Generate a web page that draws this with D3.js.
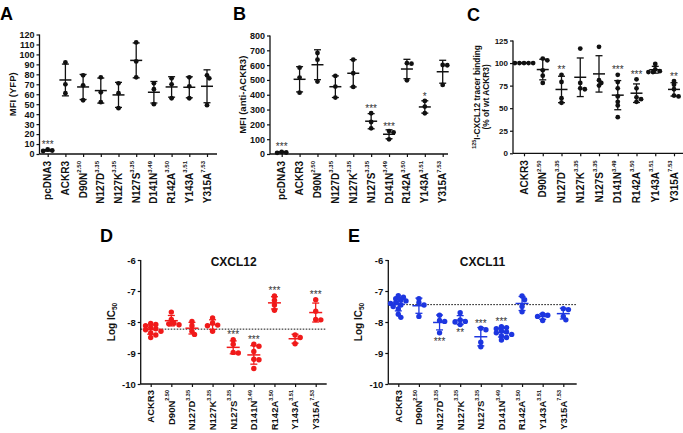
<!DOCTYPE html>
<html><head><meta charset="utf-8">
<script src="https://cdn.jsdelivr.net/npm/d3@7"></script>
<style>body{margin:0;background:#fff} svg{display:block} text{font-family:"Liberation Sans",Arial,sans-serif}</style>
</head><body><svg id="c" width="683" height="433"></svg>
<script>
// ---------- categories ----------
const catsAll = ["pcDNA3","ACKR3","D90N","N127D","N127K","N127S","D141N","R142A","Y143A","Y315A"];
const supsAll = ["","","2.50","3.35","3.35","3.35","3.49","3.50","3.51","7.53"];
const catsCDE = catsAll.slice(1);
const supsCDE = supsAll.slice(1);

// ---------- values ----------
const dataA = [[4.5,3,3.5],[92,70,61],[79,69,54],[77,62,52],[71,61,46],[112,93,77],[71,65,50],[76,70,56],[77,68,56],[79,76,49]];
const dataB = [[15,10,8],[583,516,414],[682,637,489],[527,455,381],[637,545,453],[275,216,173],[155,146,99],[613,610,498],[358,320,275],[601,599,466]];
const dataC = [[100,100,100,100,100],[105,103,92,86,78],[87,79,61,56],[116,78,72,71],[118,81,78,75],[87,79,72,63,57,53,40],[82,72,62,60,57],[99,93,91,90,90],[80,76,71,64,63]];
const dataD = [[-8.05,-8.08,-8.12,-8.18,-8.22,-8.25,-8.3,-8.35,-8.42,-8.5],[-7.68,-7.92,-8.04,-8.06,-8.09],[-7.98,-8.12,-8.3,-8.4],[-7.87,-8.03,-8.1,-8.12,-8.3],[-8.57,-8.72,-8.98,-9.0],[-8.72,-8.78,-8.95,-9.2,-9.22,-9.5],[-7.16,-7.3,-7.45,-7.62],[-8.42,-8.5,-8.7],[-7.28,-7.65,-7.92,-7.93]];
const dataE = [[-7.15,-7.2,-7.25,-7.3,-7.32,-7.38,-7.4,-7.45,-7.5,-7.58,-7.75,-7.85],[-7.25,-7.38,-7.45,-7.82],[-7.78,-7.95,-7.98,-8.35],[-7.7,-7.93,-7.98,-8.08,-8.0],[-8.2,-8.25,-8.65,-8.8],[-8.15,-8.18,-8.22,-8.28,-8.32,-8.35,-8.4,-8.45,-8.5,-8.58],[-7.16,-7.28,-7.5,-7.67],[-7.75,-7.78,-7.82,-7.95],[-7.57,-7.6,-7.82,-7.93]];
const refD = -8.23, refE = -7.44;

// ---------- significance ----------
const starIdxA = [0], starTxtA = ["***"], starPosA = ["above"];
const starIdxB = [0,5,6,8], starTxtB = ["***","***","***","*"], starPosB = ["above","above","above","above"];
const starIdxC = [2,5,6,8], starTxtC = ["**","***","***","**"], starPosC = ["above","above","above","above"];
const starIdxD = [4,5,6,8], starTxtD = ["***","***","***","***"], starPosD = ["above","above","above","above"];
const starIdxE = [2,3,4,5], starTxtE = ["***","**","***","***"], starPosE = ["below","below","above","above"];

// ---------- ticks ----------
const ticksA = d3.range(0,121,10), ticksB = d3.range(0,801,100), ticksC = [0,25,50,75,100,125], ticksDE = [-10,-9,-8,-7,-6];

const svg = d3.select("#c");
const FONT = '"Liberation Sans",Arial,sans-serif';

function swarm(vals, cx, y, r){
  const pts = vals.map(v=>({v, y:y(v)})).sort((a,b)=>a.y-b.y);
  const placed=[]; const minD=r*1.45, step=r*0.95;
  pts.forEach(p=>{
    for(let k=0;k<30;k++){
      const o = k===0?0:(k%2?1:-1)*Math.ceil(k/2)*step;
      const px=cx+o;
      if(placed.every(q=>Math.hypot(q.x-px,q.y-p.y)>=minD)){p.x=px;placed.push(p);break;}
    }
  });
  return placed;
}

function panel(c){
  const g = svg.append("g");
  const x = d3.scalePoint().domain(c.cats).range([c.x0,c.x1]);
  const y = d3.scaleLinear().domain(c.yDomain).range([c.yBottom,c.yTop]);
  // y axis
  const ya = g.append("g").attr("transform",`translate(${c.axisX},0)`)
    .call(d3.axisLeft(y).tickValues(c.yTicks).tickSize(3).tickPadding(2).tickFormat(d=>String(d)));
  ya.select(".domain").attr("stroke","#111").attr("stroke-width",1.3).attr("d",`M0,${c.yTop}V${c.yBottom}`);
  ya.selectAll(".tick line").attr("stroke","#111").attr("stroke-width",1.2);
  ya.selectAll(".tick text").attr("font-family",FONT).attr("font-weight","bold").attr("font-size",c.tickFs).attr("fill","#111");
  // x axis
  const xa = g.append("g").attr("transform",`translate(0,${c.yBottom})`)
    .call(d3.axisBottom(x).tickSize(3).tickFormat(""));
  xa.select(".domain").remove();
  xa.selectAll(".tick line").attr("stroke","#111").attr("stroke-width",1.2);
  g.append("line").attr("x1",c.axisX).attr("x2",c.axisEnd).attr("y1",c.yBottom).attr("y2",c.yBottom).attr("stroke","#111").attr("stroke-width",1.3);
  // category labels
  c.cats.forEach((cat,i)=>{
    const t = g.append("text").attr("transform",`translate(${x(cat)},${c.yBottom+c.labOff}) rotate(-90)`)
      .attr("text-anchor","end").attr("dy","0.35em").attr("font-weight","bold").attr("font-size",c.catFs).attr("fill","#111");
    t.append("tspan").text(cat);
    if(c.sups[i]) t.append("tspan").attr("font-size",c.supFs).attr("dy","-0.95em").text(c.sups[i]);
  });
  // reference line
  if(c.ref!==undefined){
    g.append("line").attr("x1",c.axisX).attr("x2",c.axisEnd).attr("y1",y(c.ref)).attr("y2",y(c.ref))
      .attr("stroke","#111").attr("stroke-width",1).attr("stroke-dasharray","1.6,1.4");
  }
  // data
  const ext = [];
  c.data.forEach((vals,i)=>{
    const cx = x(c.cats[i]);
    const m = d3.mean(vals), sd = d3.deviation(vals)||0;
    const pts = swarm(vals,cx,y,c.r);
    g.selectAll(null).data(pts).enter().append("circle")
      .attr("cx",d=>d.x).attr("cy",d=>d.y).attr("r",c.r).attr("fill",c.color);
    const yt=y(m+sd), yb=y(m-sd), ym=y(m);
    g.append("line").attr("x1",cx).attr("x2",cx).attr("y1",yt).attr("y2",yb).attr("stroke",c.color).attr("stroke-width",1.3);
    g.append("line").attr("x1",cx-c.capHalf).attr("x2",cx+c.capHalf).attr("y1",yt).attr("y2",yt).attr("stroke",c.color).attr("stroke-width",1.3);
    g.append("line").attr("x1",cx-c.capHalf).attr("x2",cx+c.capHalf).attr("y1",yb).attr("y2",yb).attr("stroke",c.color).attr("stroke-width",1.3);
    g.append("line").attr("x1",cx-c.meanHalf).attr("x2",cx+c.meanHalf).attr("y1",ym).attr("y2",ym).attr("stroke",c.color).attr("stroke-width",1.5);
    ext.push({top:Math.min(yt,d3.min(pts,d=>d.y)-c.r), bot:Math.max(yb,d3.max(pts,d=>d.y)+c.r)});
  });
  // stars
  c.starIdx.forEach((ci,k)=>{
    const cx=x(c.cats[ci]);
    const yy = c.starPos[k]==="above" ? ext[ci].top+1 : ext[ci].bot+9;
    g.append("text").attr("x",cx).attr("y",yy).attr("text-anchor","middle").attr("font-size",10).attr("fill","#333").text(c.starTxt[k]);
  });
  // letter
  g.append("text").attr("x",c.lx).attr("y",c.ly).attr("font-size",18).attr("font-weight","bold").attr("fill","#000").text(c.letter);
  // title
  if(c.title) g.append("text").attr("x",(c.axisX+c.axisEnd)/2).attr("y",c.yTop+5.5).attr("text-anchor","middle").attr("font-size",12).attr("font-weight","bold").attr("fill","#111").text(c.title);
  // y label
  const yc=(c.yTop+c.yBottom)/2;
  c.ylab.forEach((ln,k)=>{
    const t=g.append("text").attr("transform",`translate(${c.ylabX+k*c.ylabDx},${yc}) rotate(-90)`).attr("text-anchor","middle")
      .attr("font-weight","bold").attr("font-size",c.ylabFs).attr("fill","#111");
    ln.forEach(seg=>{
      const s=t.append("tspan").text(seg.t);
      if(seg.sup){s.attr("font-size",c.ylabFs*0.65).attr("dy","-0.5em");}
      if(seg.after){s.attr("dy","0.5em");}
      if(seg.sub){s.attr("font-size",c.ylabFs*0.65).attr("dy","0.35em");}
    });
  });
}

panel({letter:"A",lx:0,ly:20,cats:catsAll,sups:supsAll,data:dataA,yDomain:[0,120],yTicks:ticksA,yBottom:154,yTop:34.5,axisX:39.5,axisEnd:217,x0:47.7,x1:207,color:"#111",r:2.4,meanHalf:6,capHalf:3.5,tickFs:9,
  catFs:10,supFs:6,labOff:7,
  ylab:[[{t:"MFI (YFP)"}]],ylabX:16,ylabDx:0,ylabFs:9.5,starIdx:starIdxA,starTxt:starTxtA,starPos:starPosA});
panel({letter:"B",lx:233,ly:20,cats:catsAll,sups:supsAll,data:dataB,yDomain:[0,800],yTicks:ticksB,yBottom:154,yTop:35.5,axisX:270,axisEnd:448,x0:281.7,x1:442.7,color:"#111",r:2.4,meanHalf:6,capHalf:3.5,tickFs:9,
  catFs:10,supFs:6,labOff:7,
  ylab:[[{t:"MFI (anti-ACKR3)"}]],ylabX:246,ylabDx:0,ylabFs:9.5,starIdx:starIdxB,starTxt:starTxtB,starPos:starPosB});
panel({letter:"C",lx:467,ly:21,cats:catsCDE,sups:supsCDE,data:dataC,yDomain:[0,125],yTicks:ticksC,yBottom:153.3,yTop:40.5,axisX:513,axisEnd:683,x0:524,x1:674,color:"#111",r:2.4,meanHalf:6,capHalf:3.5,tickFs:8,
  catFs:10,supFs:6,labOff:7,
  ylab:[[{t:"125",sup:true},{t:"I-CXCL12 tracer binding",after:true}],[{t:"(% of wt ACKR3)"}]],ylabX:479,ylabDx:10,ylabFs:8.3,starIdx:starIdxC,starTxt:starTxtC,starPos:starPosC});
panel({letter:"D",lx:100,ly:242,cats:catsCDE,sups:supsCDE,data:dataD,yDomain:[-10,-6],yTicks:ticksDE,yBottom:384,yTop:260,axisX:140.7,axisEnd:326.7,x0:150.7,x1:315.7,color:"#f01a1a",r:2.7,meanHalf:6.5,capHalf:3.5,tickFs:9.5,
  catFs:9.5,supFs:5.5,labOff:6,
  title:"CXCL12",ylab:[[{t:"Log IC"},{t:"50",sub:true}]],ylabX:115,ylabDx:0,ylabFs:10,ref:refD,starIdx:starIdxD,starTxt:starTxtD,starPos:starPosD});
panel({letter:"E",lx:348,ly:242,cats:catsCDE,sups:supsCDE,data:dataE,yDomain:[-10,-6],yTicks:ticksDE,yBottom:384,yTop:260,axisX:388.3,axisEnd:576.7,x0:398.3,x1:563.3,color:"#1d36e0",r:2.7,meanHalf:6.5,capHalf:3.5,tickFs:9.5,
  catFs:9.5,supFs:5.5,labOff:6,
  title:"CXCL11",ylab:[[{t:"Log IC"},{t:"50",sub:true}]],ylabX:362,ylabDx:0,ylabFs:10,ref:refE,starIdx:starIdxE,starTxt:starTxtE,starPos:starPosE});
</script></body></html>
